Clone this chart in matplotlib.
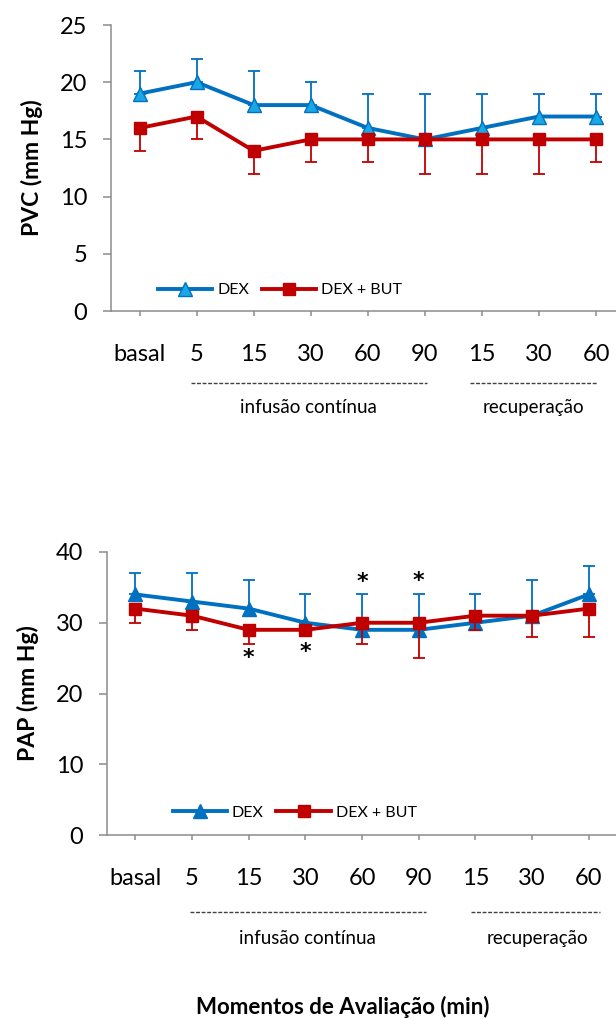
import matplotlib
matplotlib.use("Agg")
import matplotlib.pyplot as plt
import matplotlib.transforms as mtransforms

plt.rcParams['font.family'] = ['Lato', 'DejaVu Sans']

categories = ["basal", "5", "15", "30", "60", "90", "15", "30", "60"]

# PVC (mm Hg)
pvc_dex = [19, 20, 18, 18, 16, 15, 16, 17, 17]
pvc_dex_hi = [21, 22, 21, 20, 19, 19, 19, 19, 19]
pvc_but = [16, 17, 14, 15, 15, 15, 15, 15, 15]
pvc_but_lo = [14, 15, 12, 13, 13, 12, 12, 12, 13]

# PAP (mm Hg)
pap_dex = [34, 33, 32, 30, 29, 29, 30, 31, 34]
pap_dex_hi = [37, 37, 36, 34, 34, 34, 34, 36, 38]
pap_but = [32, 31, 29, 29, 30, 30, 31, 31, 32]
pap_but_lo = [30, 29, 27, 29, 27, 25, 29, 28, 28]

# asterisks (category index, y value)
star_x = [2, 3, 4, 5]
star_y = [25.0, 25.9, 35.8, 35.9]

BLUE = "#0070C0"
LIGHT_BLUE = "#19A7E6"
RED = "#C00000"
GRAY = "#8C8C8C"

fig = plt.figure(figsize=(6.16, 10.19), dpi=100)


def draw_panel(ax, dex, dex_hi, but, but_lo, ymax, ystep, ylabel, tri_face,
               xright, periods, labels_x, dash_y, text_y, leg_anchor):
    x = list(range(len(categories)))
    up = [h - v for h, v in zip(dex_hi, dex)]
    down = [v - l for v, l in zip(but, but_lo)]
    ax.errorbar(x, dex, yerr=[[0] * len(x), up], fmt='none', ecolor=BLUE,
                elinewidth=1.3, capsize=4.6, capthick=1.3, zorder=2)
    ax.plot(x, dex, color=BLUE, lw=2.8, marker='^', ms=10, mfc=tri_face,
            mec=BLUE, mew=1, label="DEX", zorder=3)
    ax.errorbar(x, but, yerr=[down, [0] * len(x)], fmt='none', ecolor=RED,
                elinewidth=1.3, capsize=4.6, capthick=1.3, zorder=4)
    ax.plot(x, but, color=RED, lw=2.8, marker='s', ms=8.5, mfc=RED,
            mec=RED, label="DEX + BUT", zorder=5)

    ax.set_xlim(-0.5, xright)
    ax.set_ylim(0, ymax)
    ax.set_yticks(range(0, ymax + 1, ystep))
    ax.set_xticks(x)
    ax.set_xticklabels(categories)
    for s in ['top', 'right']:
        ax.spines[s].set_visible(False)
    for s in ['left', 'bottom']:
        ax.spines[s].set_color(GRAY)
        ax.spines[s].set_linewidth(1.1)
    ax.tick_params(axis='y', length=6, width=1.1, color=GRAY, pad=11,
                   labelsize=17)
    ax.tick_params(axis='x', length=3.6, width=1.1, color=GRAY, pad=20,
                   labelsize=17)
    ax.set_ylabel(ylabel, fontsize=16.5, fontweight='bold', labelpad=12)

    leg = ax.legend(loc='center left', bbox_to_anchor=leg_anchor, ncol=2,
                    frameon=False, fontsize=11.5, handlelength=3.4,
                    handletextpad=0.3, columnspacing=0.8, borderpad=0,
                    borderaxespad=0)

    trans = mtransforms.blended_transform_factory(ax.transData, ax.transAxes)
    for (x0, x1), lx, lab in zip(periods, labels_x,
                                 ["infusão contínua", "recuperação"]):
        ax.plot([x0, x1], [dash_y, dash_y], transform=trans, clip_on=False,
                color="#404040", lw=1.0, dashes=(2.8, 1.2))
        ax.text(lx, text_y, lab, transform=trans, ha='center', va='center',
                fontsize=13.5)
    return leg


ax1 = fig.add_axes([111 / 616, 1 - 311 / 1019, 505 / 616, 286 / 1019])
draw_panel(ax1, pvc_dex, pvc_dex_hi, pvc_but, pvc_but_lo, 25, 5,
           "PVC (mm Hg)", LIGHT_BLUE, 8.35,
           [(0.91, 5.04), (5.79, 8.02)], [2.96, 6.9], -0.252, -0.339,
           (0.093, 0.073))

ax2 = fig.add_axes([107 / 616, 1 - 835 / 1019, 509 / 616, 283 / 1019])
draw_panel(ax2, pap_dex, pap_dex_hi, pap_but, pap_but_lo, 40, 10,
           "PAP (mm Hg)", BLUE, 8.48,
           [(0.97, 5.12), (5.93, 8.2)], [3.04, 7.09], -0.272, -0.364,
           (0.129, 0.078))

for sx, sy in zip(star_x, star_y):
    ax2.text(sx, sy, "*", ha='center', va='center', fontsize=16,
             fontweight='bold', family='DejaVu Sans')

fig.text(343 / 616, 1 - 1007 / 1019, "Momentos de Avaliação (min)",
         ha='center', va='center', fontsize=16, fontweight='bold')

fig.savefig("out.png", dpi=100)
